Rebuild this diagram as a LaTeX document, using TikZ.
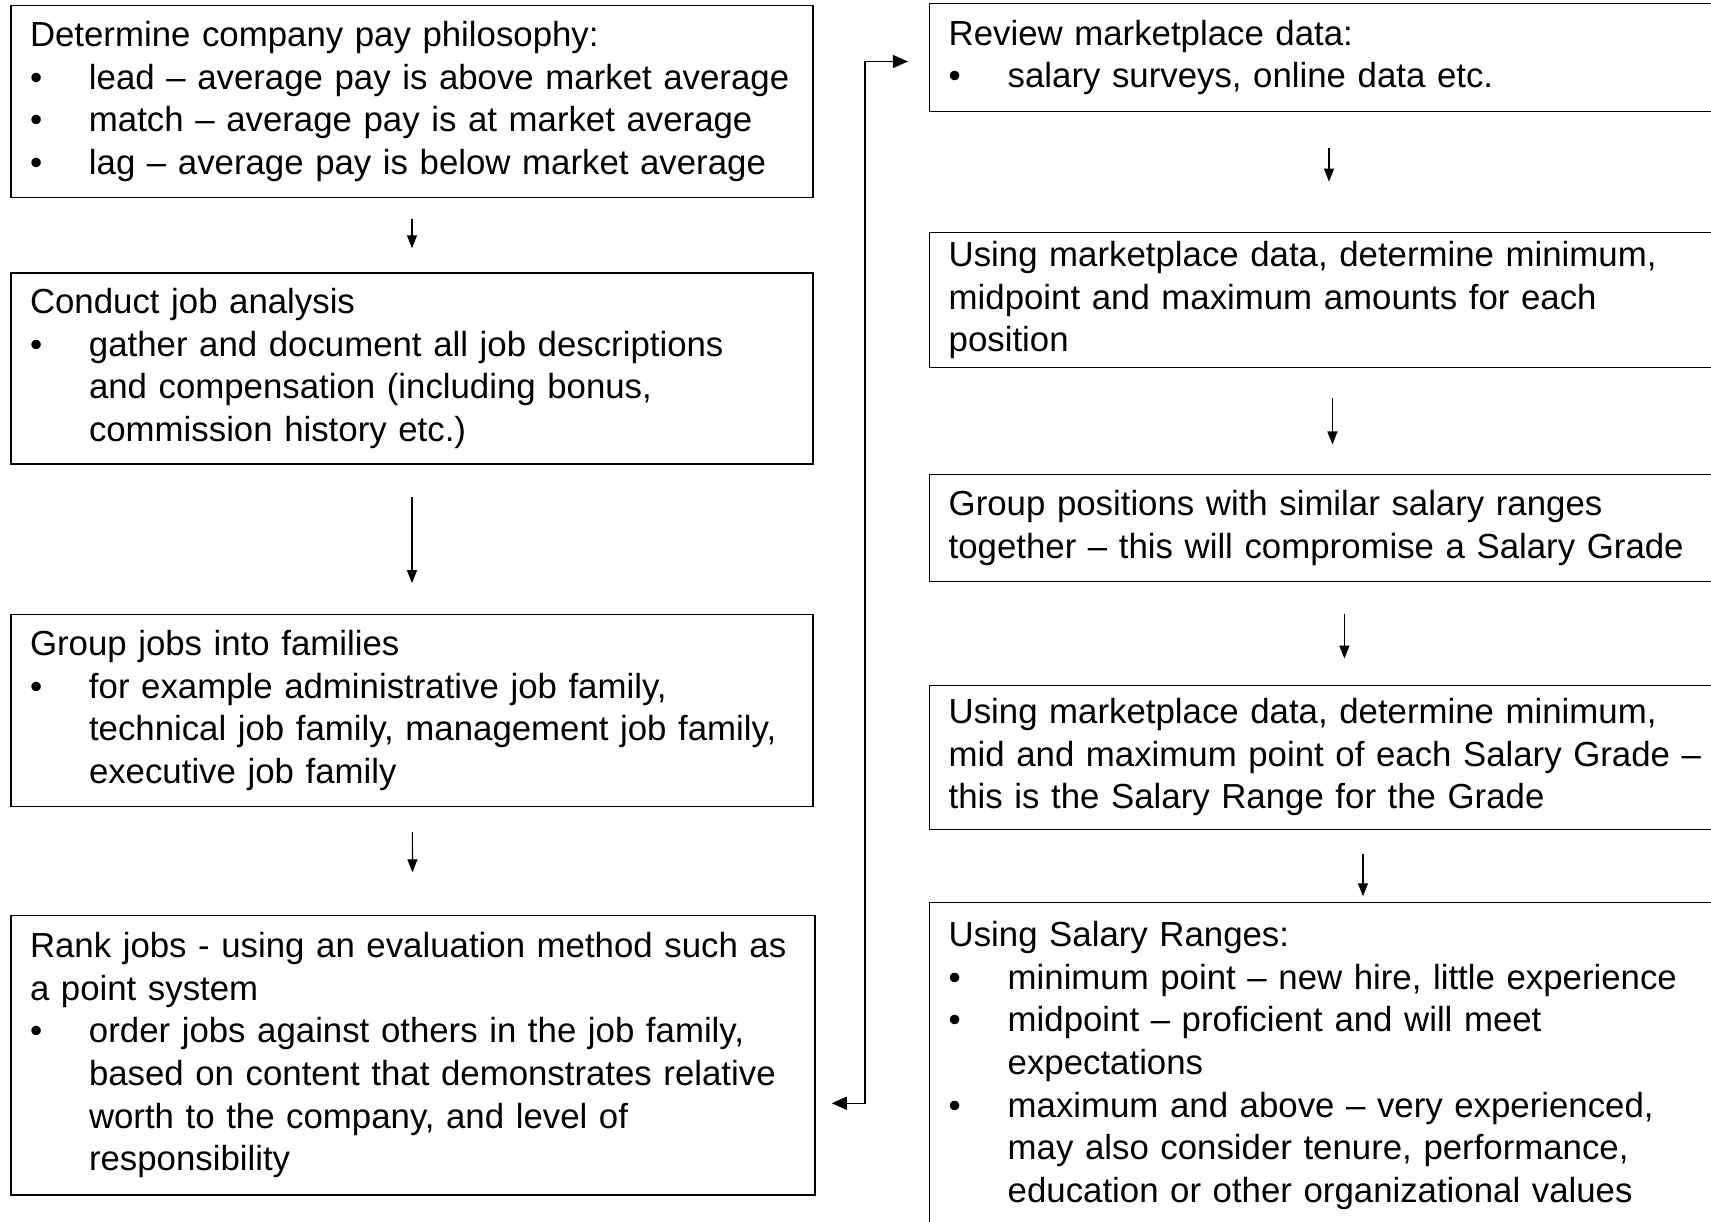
\documentclass[tikz,border=0pt]{standalone}
\usepackage{fontspec}
\setmainfont{Liberation Sans}
\usepackage{tikz}
\usetikzlibrary{arrows.meta}
\setlength{\parindent}{0pt}
\newcommand{\payitem}[1]{\par\noindent\hangindent=59pt\hangafter=1\makebox[59pt][l]{\textbullet}#1\par}

\begin{document}
\begin{tikzpicture}[x=1pt,y=-1pt,
    procbox/.style={draw, line width=1.5pt, inner xsep=19pt, inner ysep=0pt,
      font=\fontsize{34.8}{42.6}\selectfont,
      execute at begin node={\raggedright\rightskip=-40pt plus 1fil\relax}},
    flowarrow/.style={line width=1.2pt, -{Triangle[length=13pt,width=10pt]}},
    linkarrow/.style={line width=1.2pt, {Triangle[length=15pt,width=13pt]}-{Triangle[length=15pt,width=13pt]}}]
    \useasboundingbox (0,0) rectangle (1711,1221);
    \clip (0,0) rectangle (1711,1221);
    % left column
    \node[procbox, minimum width=802pt, text width=764pt, minimum height=192pt] (philosophy) at (412,101.5)
      {Determine company pay philosophy:
       \payitem{lead – average pay is above market average}
       \payitem{match – average pay is at market average}
       \payitem{lag – average pay is below market average}};
    \node[procbox, minimum width=802pt, text width=764pt, minimum height=191pt] (analysis) at (412,368.3)
      {Conduct job analysis
       \payitem{gather and document all job descriptions\newline and compensation (including bonus,\newline commission history etc.)}};
    \node[procbox, minimum width=802pt, text width=764pt, minimum height=192pt] (families) at (412,710.4)
      {Group jobs into families
       \payitem{for example administrative job family,\newline technical job family, management job family,\newline executive job family}};
    \node[procbox, minimum width=804pt, text width=766pt, minimum height=279.4pt] (rank) at (413,1055.2)
      {Rank jobs - using an evaluation method such as\newline a point system
       \payitem{order jobs against others in the job family,\newline based on content that demonstrates relative\newline worth to the company, and level of\newline responsibility}};
    % right column
    \node[procbox, minimum width=830.3pt, text width=792.3pt, minimum height=108pt] (review) at (1344.85,57.3)
      {Review marketplace data:
       \payitem{salary surveys, online data etc.}};
    \node[procbox, minimum width=830.3pt, text width=792.3pt, minimum height=135.3pt] (amounts) at (1344.85,300)
      {Using marketplace data, determine minimum,\newline midpoint and maximum amounts for each\newline position};
    \node[procbox, minimum width=830.3pt, text width=792.3pt, minimum height=107pt] (grade) at (1344.85,528.2)
      {Group positions with similar salary ranges\newline together – this will compromise a Salary Grade};
    \node[procbox, minimum width=830.3pt, text width=792.3pt, minimum height=144pt] (range) at (1344.85,757.3)
      {Using marketplace data, determine minimum,\newline mid and maximum point of each Salary Grade –\newline this is the Salary Range for the Grade};
    \node[procbox, minimum width=830.3pt, text width=792.3pt, minimum height=326.2pt] (ranges) at (1344.85,1065.5)
      {Using Salary Ranges:
       \payitem{minimum point – new hire, little experience}
       \payitem{midpoint – proficient and will meet\newline expectations}
       \payitem{maximum and above – very experienced,\newline may also consider tenure, performance,\newline education or other organizational values}};
    % arrows
    \draw[flowarrow, shorten <=20.5pt, shorten >=23.8pt] (philosophy) -- (analysis);
    \draw[flowarrow, shorten <=32.7pt, shorten >=30.5pt] (analysis) -- (families);
    \draw[flowarrow, shorten <=25pt, shorten >=42.5pt] (families) -- (rank);
    \draw[linkarrow, shorten <=16pt, shorten >=21pt] ([yshift=-48pt]rank.east) -| (865,61.5) -- ([yshift=-4.2pt]review.west);
    \draw[flowarrow, shorten <=36pt, shorten >=50pt] (1329,0 |- review.south) -- (1329,0 |- amounts.north);
    \draw[flowarrow, shorten <=29.5pt, shorten >=29.5pt] (1332.4,0 |- amounts.south) -- (1332.4,0 |- grade.north);
    \draw[flowarrow, shorten <=31.7pt, shorten >=26pt] (1344.4,0 |- grade.south) -- (1344.4,0 |- range.north);
    \draw[flowarrow, shorten <=24pt, shorten >=5.4pt] (1363,0 |- range.south) -- (1363,0 |- ranges.north);
\end{tikzpicture}
\end{document}
